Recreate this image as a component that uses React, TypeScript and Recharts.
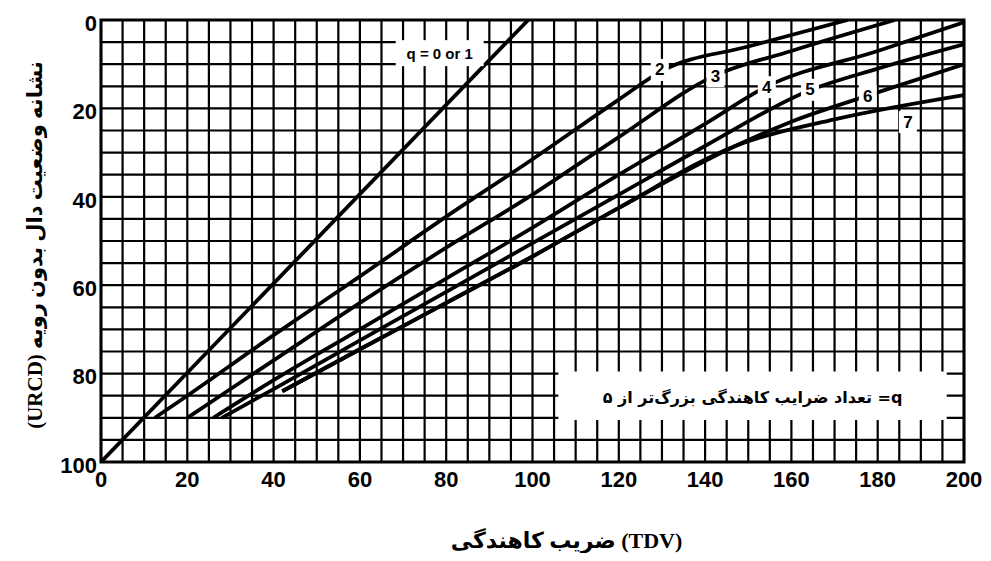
import React from 'react';
import { ComposedChart, Line, XAxis, YAxis, CartesianGrid, ReferenceArea, ReferenceDot } from 'recharts';

const xTicks = [0, 20, 40, 60, 80, 100, 120, 140, 160, 180, 200];
const yTicks = [0, 20, 40, 60, 80, 100];
const gridX = Array.from({ length: 41 }, (_, i) => i * 5);
const gridY = Array.from({ length: 21 }, (_, i) => i * 5);

const curveQ01 = [{ x: 0, y: 100 }, { x: 99, y: 0 }];
const curve2 = [
  { x: 12.5, y: 90 }, { x: 20, y: 85 }, { x: 40, y: 71.3 }, { x: 60, y: 58 }, { x: 80, y: 44.5 },
  { x: 100, y: 31.5 }, { x: 120, y: 18 }, { x: 130, y: 11.5 }, { x: 150, y: 6 }, { x: 173, y: 0 },
];
const curve3 = [
  { x: 20, y: 90 }, { x: 40, y: 77 }, { x: 60, y: 64 }, { x: 80, y: 51.5 }, { x: 100, y: 39.5 },
  { x: 120, y: 26.5 }, { x: 142, y: 12.7 }, { x: 160, y: 7 }, { x: 184, y: 0 },
];
const curve4 = [
  { x: 26, y: 90 }, { x: 40, y: 81.5 }, { x: 60, y: 70 }, { x: 80, y: 58.5 }, { x: 100, y: 47 },
  { x: 120, y: 35 }, { x: 140, y: 23.5 }, { x: 154, y: 15.2 }, { x: 180, y: 7 }, { x: 200, y: 0.5 },
];
const curve5 = [
  { x: 28, y: 90 }, { x: 40, y: 83.5 }, { x: 60, y: 72.5 }, { x: 80, y: 61.5 }, { x: 100, y: 50.5 },
  { x: 120, y: 39.5 }, { x: 140, y: 28.5 }, { x: 164, y: 16 }, { x: 180, y: 11 }, { x: 200, y: 5.5 },
];
const curve6 = [
  { x: 42, y: 84 }, { x: 60, y: 74.5 }, { x: 80, y: 64 }, { x: 100, y: 53.5 }, { x: 120, y: 42.5 },
  { x: 147, y: 28.5 }, { x: 160, y: 23 }, { x: 178, y: 17 }, { x: 200, y: 10 },
];
const curve7 = [
  { x: 42, y: 84 }, { x: 60, y: 74.5 }, { x: 80, y: 64 }, { x: 100, y: 53.5 }, { x: 120, y: 42.5 },
  { x: 147, y: 28.5 }, { x: 170, y: 22.5 }, { x: 200, y: 17 },
];

const curves = [curveQ01, curve2, curve3, curve4, curve5, curve6, curve7];

const curveLabels = [
  { x: 129.5, y: 11.3, text: '2' },
  { x: 142.4, y: 12.7, text: '3' },
  { x: 154.3, y: 15.2, text: '4' },
  { x: 164.3, y: 15.8, text: '5' },
  { x: 177.7, y: 17.2, text: '6' },
  { x: 187, y: 23.1, text: '7' },
];
const q01Label = { x: 78.5, y: 7.5, text: 'q = 0 or 1' };
const noteBox = { x1: 106, x2: 196, y1: 79.5, y2: 90.5 };
const noteText = { x: 151, y: 85.3, text: 'q= تعداد ضرایب کاهندگی بزرگ‌تر از ۵' };

const xLabelFa = 'ضریب کاهندگی';
const xLabelEn = '(TDV)';
const yLabel = 'نشانه وضعیت دال بدون رویه (URCD)';

const tickStyle = { fontFamily: 'Liberation Sans, Arial, sans-serif', fontWeight: 700, fontSize: 22, fill: '#000' };

const XLabelContent = (props: any) => {
  const vb = props.viewBox;
  return (
    <text x={vb.x + vb.width / 2 + 34} y={vb.y + 78} textAnchor="middle" dominantBaseline="central" direction="ltr"
      style={{ fontFamily: 'Liberation Serif, DejaVu Sans, serif', fontWeight: 700, fontSize: 22 }} fill="#000">
      {'\u200E\u2067' + xLabelFa + '\u2069 ' + xLabelEn}
    </text>
  );
};

const YLabelContent = (props: any) => {
  const vb = props.viewBox;
  const cx = vb.x + 27;
  const cy = vb.y + vb.height / 2 + 4;
  return (
    <text x={cx} y={cy} textAnchor="middle" dominantBaseline="central" direction="rtl"
      transform={`rotate(-90 ${cx} ${cy})`}
      style={{ fontFamily: 'Liberation Serif, DejaVu Sans, serif', fontWeight: 700, fontSize: 21 }} fill="#000">
      {yLabel}
    </text>
  );
};

const makeNumLabel = (text: string) => (p: any) => (
  <g>
    <rect x={p.cx - 9} y={p.cy - 11} width={18} height={22} fill="#fff" />
    <text x={p.cx} y={p.cy} textAnchor="middle" dominantBaseline="central"
      style={{ fontFamily: 'Liberation Sans, Arial, sans-serif', fontWeight: 700, fontSize: 17 }} fill="#000">
      {text}
    </text>
  </g>
);

const q01Shape = (p: any) => (
  <g>
    <rect x={p.cx - 44} y={p.cy - 13} width={88} height={26} fill="#fff" />
    <text x={p.cx} y={p.cy} textAnchor="middle" dominantBaseline="central"
      style={{ fontFamily: 'Liberation Sans, Arial, sans-serif', fontWeight: 700, fontSize: 15 }} fill="#000">
      {q01Label.text}
    </text>
  </g>
);

const noteShape = (p: any) => (
  <text x={p.cx} y={p.cy} textAnchor="middle" dominantBaseline="central" direction="rtl"
    style={{ fontFamily: 'DejaVu Sans, sans-serif', fontWeight: 700, fontSize: 16 }} fill="#000">
    {noteText.text}
  </text>
);

export default function App() {
  return (
    <ComposedChart width={975} height={545} margin={{ top: 12, right: 19, left: 0, bottom: 0 }}>
      <CartesianGrid stroke="#000" strokeWidth={2.2} verticalValues={gridX} horizontalValues={gridY} />
      <XAxis dataKey="x" type="number" domain={[0, 200]} ticks={xTicks} allowDataOverflow
        height={91} tickSize={0} tickMargin={9} axisLine={false} tick={tickStyle} interval={0}
        label={{ content: XLabelContent }} />
      <YAxis type="number" domain={[0, 100]} reversed ticks={yTicks} allowDataOverflow
        width={93} tickSize={0} tickMargin={4} axisLine={false} tick={{ ...tickStyle, dy: 3 }} interval={0}
        label={{ content: YLabelContent }} />
      <ReferenceArea x1={noteBox.x1} x2={noteBox.x2} y1={noteBox.y1} y2={noteBox.y2} fill="#fff" fillOpacity={1} stroke="none" />
      <ReferenceArea x1={0} x2={200} y1={0} y2={100} fill="none" stroke="#000" strokeWidth={3} />
      {curves.map((c, i) => (
        <Line key={i} data={c} dataKey="y" type="monotone" stroke="#000" strokeWidth={3.8}
          dot={false} activeDot={false} isAnimationActive={false} />
      ))}
      <ReferenceDot x={q01Label.x} y={q01Label.y} r={0} shape={q01Shape} />
      {curveLabels.map((l) => (
        <ReferenceDot key={l.text} x={l.x} y={l.y} r={0} shape={makeNumLabel(l.text)} />
      ))}
      <ReferenceDot x={noteText.x} y={noteText.y} r={0} shape={noteShape} />
    </ComposedChart>
  );
}
